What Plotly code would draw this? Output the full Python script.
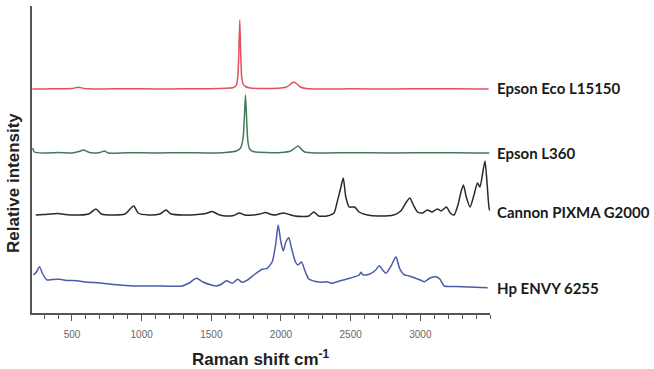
import plotly.graph_objects as go

# ---- data (relative intensity, arbitrary units) ----
names = ["Epson Eco L15150", "Epson L360", "Cannon PIXMA G2000", "Hp ENVY 6255"]
colors = ["#e5505f", "#3f7d57", "#2a2a2a", "#4c5ba6"]
offsets = [224, 160, 98, 27]

epson_eco_x = [215, 300, 400, 500, 545, 590, 700, 900, 1100, 1300, 1500, 1600, 1660, 1680,
               1690, 1697, 1704, 1711, 1718, 1728, 1745, 1780, 1900, 2000, 2040, 2065, 2092,
               2115, 2140, 2180, 2300, 2500, 2800, 3100, 3400, 3490]
epson_eco_y = [0, 0, 0.3, 0.5, 1.8, 0.5, 0, 0.3, 0, 0.2, 0.3, 0.8, 1.5, 4,
               12, 35, 69, 35, 12, 5, 2.5, 1, 0.5, 1, 2, 4.5, 7,
               5, 2, 0.5, 0, 0.2, 0, 0.3, 0, 0]

epson_l360_x = [218, 230, 300, 400, 500, 550, 583, 615, 650, 700, 732, 760, 900, 1100, 1300,
                1500, 1600, 1680, 1710, 1728, 1737, 1745, 1753, 1762, 1775, 1800, 1900, 2000,
                2070, 2100, 2123, 2145, 2170, 2250, 2500, 2800, 3100, 3400, 3495]
epson_l360_y = [5, 1, 0, 0.5, 0, 1.5, 3, 1, 0, 0.5, 2, 0, 0.3, 0, 0.3,
                0, 0.5, 2, 5, 15, 35, 58, 35, 12, 4, 1.5, 0.5, 0.5,
                2, 5, 7, 4, 1, 0, 0.3, 0, 0.3, 0, 0]

cannon_x = [240, 300, 400, 450, 550, 620, 672, 710, 800, 880, 943, 975, 1050, 1130, 1175,
            1210, 1300, 1400, 1460, 1506, 1550, 1600, 1660, 1702, 1740, 1800, 1850, 1889,
            1930, 1960, 2016, 2060, 2100, 2150, 2200, 2236, 2270, 2330, 2380, 2403, 2425,
            2447, 2465, 2490, 2528, 2560, 2620, 2700, 2808, 2860, 2900, 2925, 2950, 2980,
            3014, 3050, 3085, 3122, 3150, 3187, 3215, 3242, 3270, 3290, 3309, 3330, 3357,
            3385, 3410, 3428, 3445, 3464, 3480, 3495, 3505]
cannon_y = [0, 0.5, 1.5, 0.5, 0, 1, 6, 1, 0, 1, 9, 2, 0, 1, 5,
            1, 0, 0.5, 1.5, 3.5, 0.5, -1, -0.5, 2, 0, 0, 1, 2.5,
            0.5, 0, 2, 0.5, -1, -1.5, -1, 3, -1, -1, 2, 13, 25,
            37, 18, 8, 8, 3, 0, -1, 0, 4, 13, 17, 10, 3,
            2, 5, 3, 6, 4, 8, 2, 0, 10, 22, 30, 18, 8,
            20, 32, 28, 40, 54, 30, 6, 4]

hp_x = [224, 245, 267, 290, 321, 360, 411, 470, 536, 600, 700, 800, 941, 1100, 1290,
        1340, 1393, 1440, 1500, 1537, 1575, 1609, 1649, 1690, 1721, 1760, 1805, 1865,
        1901, 1937, 1960, 1980, 1998, 2016, 2035, 2056, 2075, 2104, 2122, 2147, 2175,
        2200, 2250, 2296, 2332, 2360, 2420, 2500, 2562, 2573, 2590, 2634, 2680, 2705,
        2730, 2753, 2790, 2825, 2850, 2880, 2920, 2957, 3000, 3029, 3070, 3112, 3140,
        3172, 3250, 3350, 3483]
hp_y = [11, 14, 19.3, 12, 6, 6.5, 6.7, 5.5, 5.3, 4, 3, 1.5, 0, 0, 0,
        3, 7.7, 4, 1, 0, 2, 5.3, 2.7, 6.7, 3.7, 6, 11, 16.7,
        17.7, 24.3, 40, 61, 45, 35, 44, 48.3, 38, 24, 21, 24, 14,
        7, 4.5, 3.7, 4.3, 2.7, 5, 8, 11, 13.7, 11, 11.7, 16, 20.3,
        16, 12.7, 20, 29.3, 18, 11.7, 10, 8.3, 6, 4.3, 8, 9.3, 7,
        0, -0.5, -1, -1.7]

series_x = [epson_eco_x, epson_l360_x, cannon_x, hp_x]
series_y = [epson_eco_y, epson_l360_y, cannon_y, hp_y]
label_y = [225, 160, 101, 25]

x_ticks = [500, 1000, 1500, 2000, 2500, 3000]
x_range = [213, 3500]

fig = go.Figure()
for nm, c, off, xs, ys in zip(names, colors, offsets, series_x, series_y):
    fig.add_trace(go.Scatter(x=xs, y=[v + off for v in ys], mode="lines", name=nm,
                             line=dict(color=c, width=1.5, shape="spline", smoothing=0.6),
                             showlegend=False))

for nm, ly in zip(names, label_y):
    fig.add_annotation(x=1.01, xref="paper", y=ly, yref="y", text="<b>" + nm + "</b>",
                       showarrow=False, xanchor="left", yanchor="middle",
                       font=dict(family="Lato", size=15, color="#1a1a1a"))

fig.add_annotation(x=0.5, xref="paper", y=-0.145, yref="paper", yanchor="middle",
                   text="<b>Raman shift cm<sup>-1</sup></b>", showarrow=False,
                   font=dict(family="Liberation Sans", size=17, color="#222"))
fig.add_annotation(x=-0.0404, xref="paper", y=0.425, yref="paper", textangle=-90,
                   text="<b>Relative intensity</b>", showarrow=False,
                   xanchor="center", yanchor="middle",
                   font=dict(family="Liberation Sans", size=17, color="#222"))

fig.update_layout(
    width=654, height=369,
    margin=dict(l=32, r=164, t=6, b=56),
    paper_bgcolor="white", plot_bgcolor="white",
    xaxis=dict(range=x_range, tickvals=x_ticks, ticks="outside", ticklen=6, tickwidth=1,
               tickcolor="#555", showline=True, linecolor="#555", linewidth=1.5,
               showgrid=False, zeroline=False, ticklabelstandoff=5,
               tickfont=dict(family="Liberation Sans", size=10, color="#666"),
               minor=dict(dtick=100, tick0=0, ticks="outside", ticklen=4, tickcolor="#555",
                          showgrid=False)),
    yaxis=dict(range=[0, 307], showline=True, linecolor="#555", linewidth=1.5,
               showticklabels=False, ticks="", showgrid=False, zeroline=False),
)

fig.write_html("out.html")
